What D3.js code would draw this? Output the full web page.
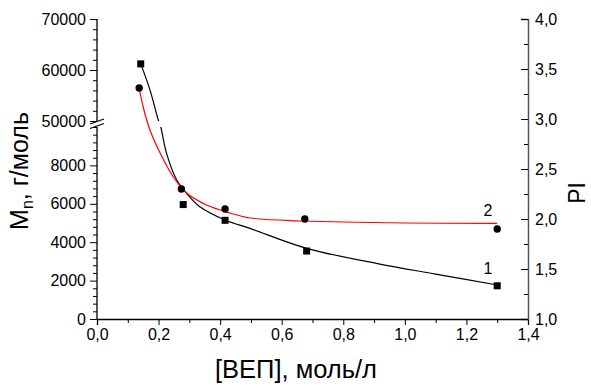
<!DOCTYPE html>
<html>
<head>
<meta charset="utf-8">
<script src="https://cdn.jsdelivr.net/npm/d3@7"></script>
<style>
  body { margin: 0; background: #fff; }
  text { font-family: "Liberation Sans", Arial, sans-serif; fill: #000; }
</style>
</head>
<body>
<svg id="mainsvg" width="591" height="388"></svg>
<script>
// --- data ---
// series 1 (squares, left axis Mn)
const sqX  = [0.142, 0.280, 0.416, 0.681, 1.300];
const sqMn = [61200, 5960, 5140, 3540, 1730];
// series 2 (circles, right axis PI)
const ciX  = [0.137, 0.274, 0.416, 0.675, 1.300];
const ciPI = [3.31, 2.30, 2.10, 2.00, 1.90];
// fitted curve 1 (black, Mn)
const fit1X  = [0.142, 0.172, 0.199, 0.207, 0.226, 0.259, 0.291, 0.334, 0.416, 0.497, 0.681, 0.919, 1.100, 1.301];
const fit1Mn = [61200, 56100, 50200, 10000, 8630, 7240, 6550, 5850, 5160, 4720, 3680, 2860, 2340, 1770];
// fitted curve 2 (red, PI)
const fit2X  = [0.137, 0.150, 0.172, 0.205, 0.248, 0.291, 0.356, 0.432, 0.497, 0.670, 1.000, 1.300];
const fit2PI = [3.31, 3.12, 2.89, 2.66, 2.42, 2.26, 2.14, 2.06, 2.01, 1.98, 1.96, 1.957];

const xTicks = [0, 0.2, 0.4, 0.6, 0.8, 1.0, 1.2, 1.4];
const mnTicks = [0, 2000, 4000, 6000, 8000, 50000, 60000, 70000];
const piTicks = [1.0, 1.5, 2.0, 2.5, 3.0, 3.5, 4.0];
const xLabel = '[ВЕП], моль/л';
const piLabel = 'PI';

const svg = d3.select('#mainsvg');
const plotL = 97, plotR = 528, plotB = 319, plotT = 19;
const gapTop = 121, gapBot = 127;

const xScale = d3.scaleLinear().domain([0, 1.4]).range([plotL, plotR]);
// broken axis: 0..10000 lower part, 50000..70000 upper part
const yMn = d3.scaleLinear().domain([0, 10000, 50000, 70000]).range([plotB, gapBot, gapTop, plotT]);
const yPI = d3.scaleLinear().domain([1, 4]).range([plotB, plotT]);

const comma = f => v => d3.format(f)(v).replace('.', ',');

// clip that hides the break band
const defs = svg.append('defs');
const cp = defs.append('clipPath').attr('id', 'brk');
cp.append('rect').attr('x', 0).attr('y', 0).attr('width', 591).attr('height', gapTop);
cp.append('rect').attr('x', 0).attr('y', gapBot).attr('width', 591).attr('height', 388 - gapBot);

// x axis
const xAxis = d3.axisBottom(xScale).tickValues(xTicks).tickSize(6).tickPadding(4).tickFormat(comma('.1f'));
const gx = svg.append('g').attr('transform', `translate(0,${plotB})`).call(xAxis);
gx.select('.domain').attr('stroke-width', 1.3);
gx.selectAll('text').attr('font-size', 16);
const xMinor = d3.range(0.1, 1.4, 0.2);
svg.append('g').attr('transform', `translate(0,${plotB})`)
  .call(d3.axisBottom(xScale).tickValues(xMinor).tickSize(4).tickFormat(''))
  .select('.domain').remove();

// left axis (Mn), domain drawn manually in two pieces
const gl = svg.append('g').attr('transform', `translate(${plotL},0)`)
  .call(d3.axisLeft(yMn).tickValues(mnTicks).tickSize(7).tickPadding(4).tickFormat(d3.format('d')));
gl.select('.domain').remove();
gl.selectAll('text').attr('font-size', 16);
const mnMinor = d3.range(400, 10001, 400).filter(v => v % 2000 !== 0 || v === 10000)
  .concat(d3.range(52000, 70000, 2000).filter(v => v !== 60000));
svg.append('g').attr('transform', `translate(${plotL},0)`)
  .call(d3.axisLeft(yMn).tickValues(mnMinor).tickSize(4).tickFormat(''))
  .select('.domain').remove();
svg.append('line').attr('x1', plotL).attr('x2', plotL).attr('y1', plotB).attr('y2', gapBot)
  .attr('stroke', '#000').attr('stroke-width', 1.3);
svg.append('line').attr('x1', plotL).attr('x2', plotL).attr('y1', gapTop).attr('y2', plotT)
  .attr('stroke', '#000').attr('stroke-width', 1.3);
// break marks
[0, 4.5].forEach(o => {
  svg.append('line').attr('x1', plotL - 7).attr('y1', gapTop + 3 + o)
    .attr('x2', plotL + 7).attr('y2', gapTop - 2 + o)
    .attr('stroke', '#000').attr('stroke-width', 1.3);
});

// right axis (PI)
const gr = svg.append('g').attr('transform', `translate(${plotR},0)`)
  .call(d3.axisRight(yPI).tickValues(piTicks).tickSize(-7).tickPadding(7).tickFormat(comma('.1f')));
gr.select('.domain').attr('stroke', '#555').attr('stroke-width', 1.5);
gr.selectAll('.tick line').attr('stroke', '#000');
gr.selectAll('text').attr('font-size', 16);
svg.append('g').attr('transform', `translate(${plotR},0)`)
  .call(d3.axisRight(yPI).tickValues(d3.range(1.25, 4, 0.5)).tickSize(-4).tickFormat(''))
  .select('.domain').remove();

// curves
const fit1 = fit1X.map((x, i) => [x, fit1Mn[i]]);
const fit2 = fit2X.map((x, i) => [x, fit2PI[i]]);
svg.append('path').datum(fit1)
  .attr('d', d3.line().x(d => xScale(d[0])).y(d => yMn(d[1])).curve(d3.curveCatmullRom.alpha(0.5)))
  .attr('fill', 'none').attr('stroke', '#000').attr('stroke-width', 1.2)
  .attr('clip-path', 'url(#brk)');
svg.append('path').datum(fit2)
  .attr('d', d3.line().x(d => xScale(d[0])).y(d => yPI(d[1])).curve(d3.curveCatmullRom.alpha(0.5)))
  .attr('fill', 'none').attr('stroke', '#ff0000').attr('stroke-width', 1.2);

// markers
svg.selectAll('.sq').data(sqX).enter().append('rect').attr('class', 'sq')
  .attr('x', d => xScale(d) - 3.5).attr('y', (d, i) => yMn(sqMn[i]) - 3.5)
  .attr('width', 7).attr('height', 7).attr('fill', '#000');
svg.selectAll('.ci').data(ciX).enter().append('circle').attr('class', 'ci')
  .attr('cx', d => xScale(d)).attr('cy', (d, i) => yPI(ciPI[i]))
  .attr('r', 3.7).attr('fill', '#000');

// curve numbers
svg.append('text').attr('x', xScale(1.27)).attr('y', yMn(2340)).attr('text-anchor', 'middle')
  .attr('font-size', 16).text('1');
svg.append('text').attr('x', xScale(1.27)).attr('y', yPI(2.03)).attr('text-anchor', 'middle')
  .attr('font-size', 16).text('2');

// axis titles
svg.append('text').attr('x', 296).attr('y', 378).attr('text-anchor', 'middle')
  .attr('font-size', 25.5).text(xLabel);
const mt = svg.append('text').attr('transform', 'translate(28,171) rotate(-90)')
  .attr('text-anchor', 'middle').attr('font-size', 25);
mt.append('tspan').text('M');
mt.append('tspan').attr('font-size', 16).attr('dy', 5).text('n');
mt.append('tspan').attr('dy', -5).text(', г/моль');
svg.append('text').attr('transform', 'translate(585,193) rotate(-90)')
  .attr('text-anchor', 'middle').attr('font-size', 23).text(piLabel);
</script>
</body>
</html>
